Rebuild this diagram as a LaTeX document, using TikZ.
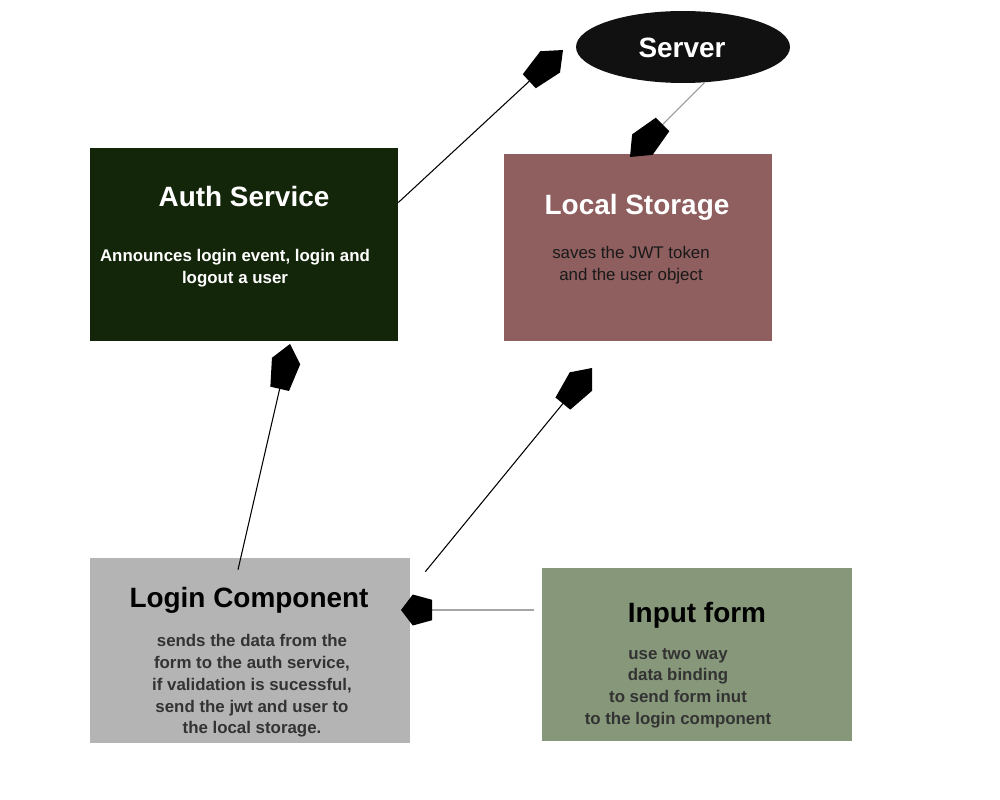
\documentclass[tikz,border=0pt]{standalone}
\usepackage{fontspec}
\setmainfont{Liberation Sans}
\usetikzlibrary{arrows.meta,shapes.geometric}

\definecolor{authgreen}{HTML}{13260A}
\definecolor{storebrown}{HTML}{8F5E5E}
\definecolor{logingray}{HTML}{B5B4B5}
\definecolor{formgreen}{HTML}{86977A}
\definecolor{servblack}{HTML}{111111}
\definecolor{textdark}{HTML}{333333}

% pentagon shaped tip
\pgfdeclarearrow{
  name = Pent,
  parameters = {\the\pgfarrowlength,\the\pgfarrowwidth},
  setup code = {
    \pgfarrowssettipend{\pgfarrowlength}
    \pgfarrowssetlineend{0.5pt}
    \pgfarrowssetbackend{0pt}
    \pgfarrowshullpoint{\pgfarrowlength}{0pt}
    \pgfarrowsupperhullpoint{0pt}{0.5\pgfarrowwidth}
    \pgfarrowssavethe\pgfarrowlength
    \pgfarrowssavethe\pgfarrowwidth
  },
  drawing code = {
    \pgfpathmoveto{\pgfqpoint{0pt}{0.33\pgfarrowwidth}}
    \pgfpathlineto{\pgfqpoint{0.62\pgfarrowlength}{0.5\pgfarrowwidth}}
    \pgfpathlineto{\pgfqpoint{\pgfarrowlength}{0pt}}
    \pgfpathlineto{\pgfqpoint{0.62\pgfarrowlength}{-0.5\pgfarrowwidth}}
    \pgfpathlineto{\pgfqpoint{0pt}{-0.33\pgfarrowwidth}}
    \pgfpathclose
    \pgfusepathqfill
  },
  defaults = {length = 0.92cm, width = 0.58cm}
}

\tikzset{
  box/.style={rectangle, inner sep=0pt},
  boxtitle/.style={font=\fontsize{15.9}{19}\selectfont\bfseries},
  boxtext/.style={font=\fontsize{9.6}{12.4}\selectfont\bfseries, align=center},
  link/.style={line width=0.6pt, -{Pent[black]}}
}

\begin{document}
\begin{tikzpicture}[x=0.02cm, y=-0.02cm]
                \useasboundingbox (0, 0) rectangle (1000, 800);
                % boxes
                \node [box, fill=authgreen, minimum width=6.16cm, minimum height=3.86cm] (auth) at (244, 244.5) {};
                \node [boxtitle, text=white] (authtitle) at (244, 196.5) {Auth Service};
                \node [boxtext, text=white] (authtext) at (235, 268.5) {Announces login event, login and\\logout a user};

                \node [box, fill=storebrown, minimum width=5.36cm, minimum height=3.74cm] (store) at (638, 247.5) {};
                \node [boxtitle, text=white] (storetitle) at (637, 207.5) {Local Storage};
                \node [boxtext, font=\fontsize{9.6}{12.4}\selectfont, text=black!90] (storetext) at (631, 265.5) {saves the JWT token\\and the user object};

                \node [box, fill=logingray, minimum width=6.4cm, minimum height=3.7cm] (login) at (250, 650.5) {};
                \node [boxtitle, text=black] (logintitle) at (249, 600) {Login Component};
                \node [boxtext, text=textdark] (logintext) at (252, 686) {sends the data from the\\form to the auth service,\\if validation is sucessful,\\send the jwt and user to\\the local storage.};

                \node [box, fill=formgreen, minimum width=6.2cm, minimum height=3.46cm] (form) at (697, 654.5) {};
                \node [boxtitle, text=black] (formtitle) at (697, 615) {Input form};
                \node [boxtext, text=textdark] (formtext) at (678, 688) {use two way\\data binding\\to send form inut\\to the login component};

                \node [ellipse, fill=servblack, inner sep=0pt, minimum width=4.28cm, minimum height=1.44cm] (server) at (683, 47) {};
                \node [boxtitle, text=white] (servertitle) at (682, 48) {Server};

                % connectors
                \coordinate (servertip) at (563, 50);
                \coordinate (storetip) at (630, 157);
                \coordinate (authtip) at (290, 344);
                \coordinate (storebtip) at (592, 368);
                \coordinate (logintip) at (401, 610);
                \draw [link] ([shift={(0, -42)}]auth.east) -- (servertip);
                \draw [link, gray!80] (server.-59) -- (storetip);
                \draw [link] ([shift={(-12, 12)}]login.north) -- (authtip);
                \draw [link] ([shift={(15, 14)}]login.north east) -- (storebtip);
                \draw [link, gray!70, -{Pent[black, length=0.62cm, width=0.62cm]}] ([shift={(-8, -44.5)}]form.west) -- (logintip);
            \end{tikzpicture}
\end{document}
